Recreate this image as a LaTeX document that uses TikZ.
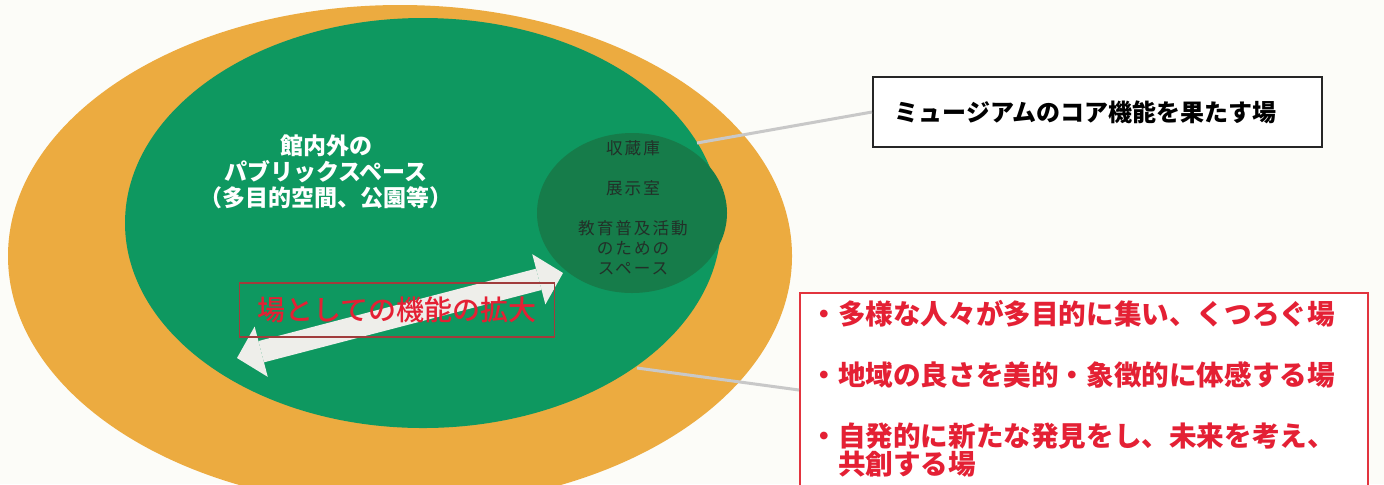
\documentclass[tikz,border=0pt]{standalone}
\usepackage{fontspec}
\setmainfont{Noto Sans CJK JP}
\newfontfamily\jpmed{Noto Sans CJK JP Medium}
\usetikzlibrary{arrows.meta}
\definecolor{bgC}{RGB}{252,252,248}
\definecolor{orangeC}{RGB}{236,171,64}
\definecolor{greenC}{RGB}{14,152,96}
\definecolor{darkC}{RGB}{22,124,74}
\definecolor{darkText}{RGB}{34,48,40}
\definecolor{arrowC}{RGB}{238,238,234}
\definecolor{redC}{RGB}{228,32,52}
\definecolor{boxRed}{RGB}{226,52,62}
\definecolor{lblBorder}{RGB}{160,60,60}
\definecolor{connC}{RGB}{200,200,200}
\tikzset{
  publbl/.style={align=center,text=white,inner sep=0pt,
    font=\bfseries\fontsize{11.5}{13}\selectfont},
  corelbl/.style={align=center,text=darkText,inner sep=0pt,
    font=\fontsize{8.3}{10}\selectfont\addfontfeatures{LetterSpace=12}},
  corebox/.style={draw=black!85,line width=1pt,fill=white,minimum width=224.5pt,
    minimum height=35pt,text width=203pt,align=left,inner xsep=10.5pt,
    font=\bfseries\fontsize{12}{14}\selectfont},
  listbox/.style={draw=boxRed,line width=1pt,fill=white,minimum width=284pt,
    minimum height=97pt},
  bullet/.style={anchor=west,inner sep=0pt,text=redC,align=left,
    font=\bfseries\fontsize{13.8}{13}\selectfont},
  lblbox/.style={draw=lblBorder,line width=0.7pt,minimum width=157.5pt,
    minimum height=27pt,text=redC,font=\jpmed\fontsize{14}{16}\selectfont},
  conn/.style={draw=connC,line width=1.5pt},
  bigarrow/.style={draw=arrowC,line width=11pt,
    {Triangle[length=12.5pt,width=26pt,line width=0pt]}-{Triangle[length=12.5pt,width=26pt,line width=0pt]}}
}
\begin{document}
\begin{tikzpicture}[x=0.5pt,y=-0.5pt]
\fill[bgC] (0,0) rectangle (1384,484);
\useasboundingbox (0,0) rectangle (1384,484);
\clip (0,0) rectangle (1384,484);
% ellipses
\fill[orangeC] (400,256) ellipse [x radius=392, y radius=251];
\fill[greenC] (423,223) ellipse [x radius=298, y radius=205];
\fill[darkC] (632,213) ellipse [x radius=95, y radius=80];
% labels in ellipses
\node[publbl] (pub) at (326,172) {館内外の\\パブリックスペース\\（多目的空間、公園等）};
\node[corelbl] (core) at (633,208) {収蔵庫\\[10pt]展示室\\[10pt]教育普及活動\\のための\\スペース};
% double arrow
\coordinate (aL) at (237,358);
\coordinate (aR) at (563,273);
\draw[bigarrow] (aL) -- (aR);
\node[lblbox] (exp) at (397,310) {場としての機能の拡大};
% right boxes
\node[corebox] (corebox) at (1097.5,112) {ミュージアムのコア機能を果たす場};
\node[listbox] (list) at (1084,390) {};
\node[bullet] (b1) at (810,314) {・多様な人々が多目的に集い、くつろぐ場};
\node[bullet] (b2) at (810,375) {・地域の良さを美的・象徴的に体感する場};
\node[bullet] (b3) at (810,450) {・自発的に新たな発見をし、未来を考え、\\\hspace*{1em}共創する場};
% connectors
\coordinate (c1) at (697,143);
\coordinate (c2) at (637,368);
\draw[conn] (c1) -- (corebox.west);
\draw[conn] (c2) -- (list.west);
\end{tikzpicture}
\end{document}
